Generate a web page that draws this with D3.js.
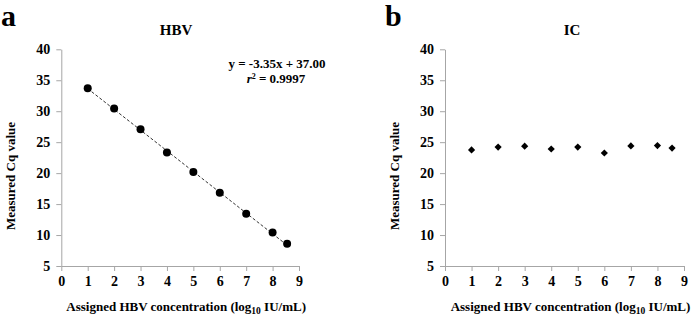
<!DOCTYPE html>
<html><head><meta charset="utf-8">
<script src="https://cdn.jsdelivr.net/npm/d3@7"></script>
<style>body{margin:0;background:#fff}svg{display:block}</style>
</head><body>
<svg id="c" width="691" height="317"></svg>
<script>
const concentrations = [1, 2, 3, 4, 5, 6, 7, 8, 8.55];
const hbvCq = [33.7, 30.45, 27.1, 23.35, 20.2, 16.85, 13.45, 10.4, 8.6];
const icCq = [23.75, 24.2, 24.35, 23.9, 24.2, 23.25, 24.4, 24.45, 24.05];
const fitSlope = -3.35, fitIntercept = 37.00;
const xTicks = [0,1,2,3,4,5,6,7,8,9];
const yTicks = [5,10,15,20,25,30,35,40];
const panels = [
  {letter:"a", title:"HBV", data:hbvCq, left:61.3, right:299, shape:"circle", fit:true, letterX:1, titleX:176},
  {letter:"b", title:"IC", data:icCq, left:445, right:684, shape:"diamond", fit:false, letterX:385, titleX:572}
];
const FONT = '"Liberation Serif"';
const svg = d3.select("#c");
const plotTop = 49.3, plotBottom = 266;
const axisCol = "#a6a6a6";
function txt(sel, size) {
  return sel.attr("font-family", "Liberation Serif").style("font-family", FONT).style("font-weight","bold").style("font-size", size).attr("fill","#000");
}
panels.forEach(p => {
  const x = d3.scaleLinear().domain([0,9]).range([p.left, p.right]);
  const y = d3.scaleLinear().domain([5,40]).range([plotBottom, plotTop]);
  const g = svg.append("g");
  const xa = g.append("g").attr("transform",`translate(0,${plotBottom})`)
    .call(d3.axisBottom(x).tickValues(xTicks).tickSize(5).tickSizeOuter(0).tickPadding(5));
  const ya = g.append("g").attr("transform",`translate(${p.left},0)`)
    .call(d3.axisLeft(y).tickValues(yTicks).tickSize(5).tickSizeOuter(0).tickPadding(6));
  [xa, ya].forEach(a => {
    a.attr("font-family", "Liberation Serif").attr("font-size", null);
    a.select(".domain").attr("stroke", axisCol).attr("stroke-width",1);
    a.selectAll(".tick line").attr("stroke", axisCol);
    txt(a.selectAll(".tick text"), "14px");
  });
  txt(g.append("text").attr("x", p.letterX).attr("y", 26), "30px").text(p.letter);
  txt(g.append("text").attr("x", p.titleX).attr("y", 34.5).attr("text-anchor","middle"), "15px").text(p.title);
  const xt = txt(g.append("text").attr("x", (p.left+p.right)/2 + 6).attr("y", 311).attr("text-anchor","middle"), "13px");
  xt.append("tspan").text("Assigned HBV concentration (log");
  xt.append("tspan").attr("dy",3).style("font-size","9.5px").text("10");
  xt.append("tspan").attr("dy",-3).text(" IU/mL)");
  txt(g.append("text").attr("transform",`translate(${p.left-46},176) rotate(-90)`).attr("text-anchor","middle"), "13px").text("Measured Cq value");
  if (p.fit) {
    const x0 = concentrations[0], x1 = concentrations[concentrations.length-1];
    g.append("line").attr("x1", x(x0)).attr("y1", y(fitSlope*x0+fitIntercept))
      .attr("x2", x(x1)).attr("y2", y(fitSlope*x1+fitIntercept))
      .attr("stroke","#333").attr("stroke-width",1).attr("stroke-dasharray","3,2");
    txt(g.append("text").attr("x",277).attr("y",68).attr("text-anchor","middle"), "13px").text("y = -3.35x + 37.00");
    const r = txt(g.append("text").attr("x",276).attr("y",83).attr("text-anchor","middle"), "13px");
    r.append("tspan").style("font-style","italic").text("r");
    r.append("tspan").attr("dy",-4).style("font-size","8px").text("2");
    r.append("tspan").attr("dy",4).text(" = 0.9997");
  }
  const pts = concentrations.map((c,i)=>({c, v:p.data[i]}));
  if (p.shape === "circle") {
    g.selectAll("circle.pt").data(pts).enter().append("circle").attr("class","pt")
      .attr("cx", d=>x(d.c)).attr("cy", d=>y(d.v)).attr("r",4).attr("fill","#000");
  } else {
    const sym = d3.symbol().type(d3.symbolSquare).size(26);
    g.selectAll("path.pt").data(pts).enter().append("path").attr("class","pt")
      .attr("d", sym).attr("transform", d=>`translate(${x(d.c)},${y(d.v)}) rotate(45)`).attr("fill","#000");
  }
});
</script>
</body></html>
